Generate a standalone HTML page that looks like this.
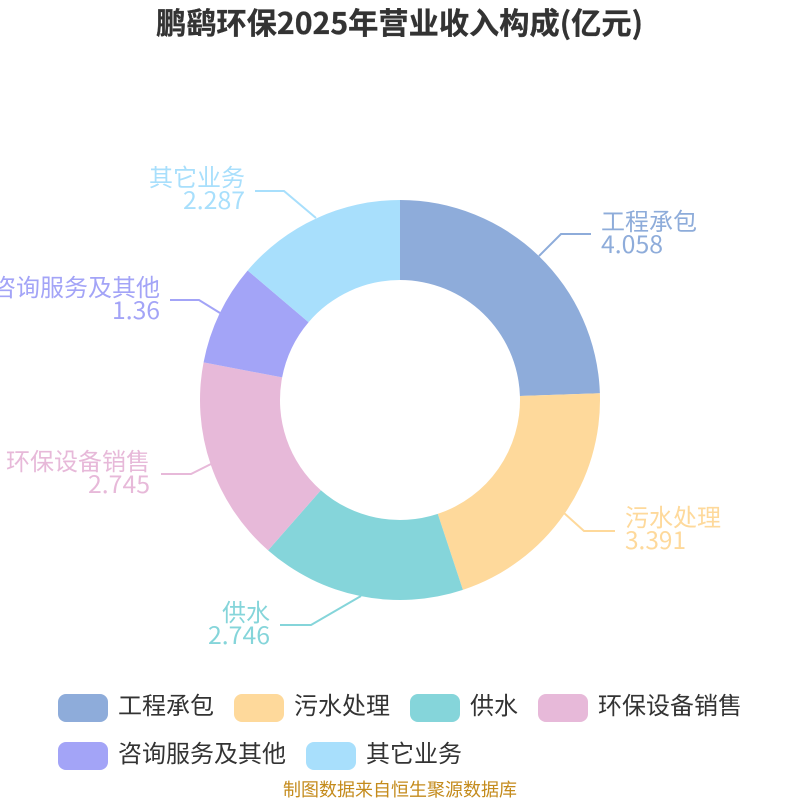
<!DOCTYPE html>
<html lang="zh"><head><meta charset="utf-8"><style>
html,body{margin:0;padding:0;background:#fff}
svg{display:block}
text{font-family:"Noto Sans CJK SC","WenQuanYi Zen Hei",sans-serif}
.l{font-size:24px}
</style></head><body>
<svg width="800" height="800" viewBox="0 0 800 800" xmlns="http://www.w3.org/2000/svg">
<rect width="800" height="800" fill="#fff"/>
<text x="156" y="34" font-size="30" font-weight="700" fill="#333" stroke="#333" stroke-width="0.3" textLength="487" lengthAdjust="spacingAndGlyphs">鹏鹞环保2025年营业收入构成(亿元)</text>
<path d="M400 200A200 200 0 0 1 599.89 393.26L519.93 395.96A120 120 0 0 0 400 280Z" fill="#8eacda"/>
<path d="M599.89 393.26A200 200 0 0 1 462.9 589.85L437.74 513.91A120 120 0 0 0 519.93 395.96Z" fill="#fed99b"/>
<path d="M462.9 589.85A200 200 0 0 1 268.1 550.34L320.86 490.2A120 120 0 0 0 437.74 513.91Z" fill="#85d5da"/>
<path d="M268.1 550.34A200 200 0 0 1 203.57 362.36L282.14 377.42A120 120 0 0 0 320.86 490.2Z" fill="#e7b9d9"/>
<path d="M203.57 362.36A200 200 0 0 1 247.64 270.44L308.58 322.26A120 120 0 0 0 282.14 377.42Z" fill="#a3a4f7"/>
<path d="M247.64 270.44A200 200 0 0 1 400 200L400 280A120 120 0 0 0 308.58 322.26Z" fill="#a8dffc"/>
<g fill="none" stroke-width="2">
<path d="M539 256L561 234H591" stroke="#8eacda"/>
<path d="M564 513L584 531H615" stroke="#fed99b"/>
<path d="M361 596L311 625H280" stroke="#85d5da"/>
<path d="M211 464L191 474H161" stroke="#e7b9d9"/>
<path d="M220 313L199 300H170" stroke="#a3a4f7"/>
<path d="M316 218L284 191H255" stroke="#a8dffc"/>
</g>
<g class="l">
<text x="601" y="230" fill="#8eacda">工程承包</text>
<text x="601" y="253" fill="#8eacda" textLength="62" lengthAdjust="spacingAndGlyphs">4.058</text>
<text x="625" y="526" fill="#fed99b">污水处理</text>
<text x="625" y="549" fill="#fed99b" textLength="61" lengthAdjust="spacingAndGlyphs">3.391</text>
<text x="270" y="621" text-anchor="end" fill="#85d5da">供水</text>
<text x="208" y="644" fill="#85d5da" textLength="62" lengthAdjust="spacingAndGlyphs">2.746</text>
<text x="150" y="470" text-anchor="end" fill="#e7b9d9">环保设备销售</text>
<text x="88" y="493" fill="#e7b9d9" textLength="62" lengthAdjust="spacingAndGlyphs">2.745</text>
<text x="160" y="296" text-anchor="end" fill="#a3a4f7">咨询服务及其他</text>
<text x="112" y="319" fill="#a3a4f7" textLength="48" lengthAdjust="spacingAndGlyphs">1.36</text>
<text x="245" y="186" text-anchor="end" fill="#a8dffc">其它业务</text>
<text x="183" y="209" fill="#a8dffc" textLength="62" lengthAdjust="spacingAndGlyphs">2.287</text>
</g>
<rect x="58" y="694" width="50" height="28" rx="8" fill="#8eacda"/>
<rect x="234" y="694" width="50" height="28" rx="8" fill="#fed99b"/>
<rect x="410" y="694" width="50" height="28" rx="8" fill="#85d5da"/>
<rect x="538" y="694" width="50" height="28" rx="8" fill="#e7b9d9"/>
<rect x="58" y="742" width="50" height="28" rx="8" fill="#a3a4f7"/>
<rect x="306" y="742" width="50" height="28" rx="8" fill="#a8dffc"/>
<g class="l" fill="#333">
<text x="118" y="714">工程承包</text>
<text x="294" y="714">污水处理</text>
<text x="470" y="714">供水</text>
<text x="598" y="714">环保设备销售</text>
<text x="118" y="762">咨询服务及其他</text>
<text x="366" y="762">其它业务</text>
</g>
<text x="400" y="796" text-anchor="middle" font-size="18" fill="#c48b1c">制图数据来自恒生聚源数据库</text>
</svg>
</body></html>
